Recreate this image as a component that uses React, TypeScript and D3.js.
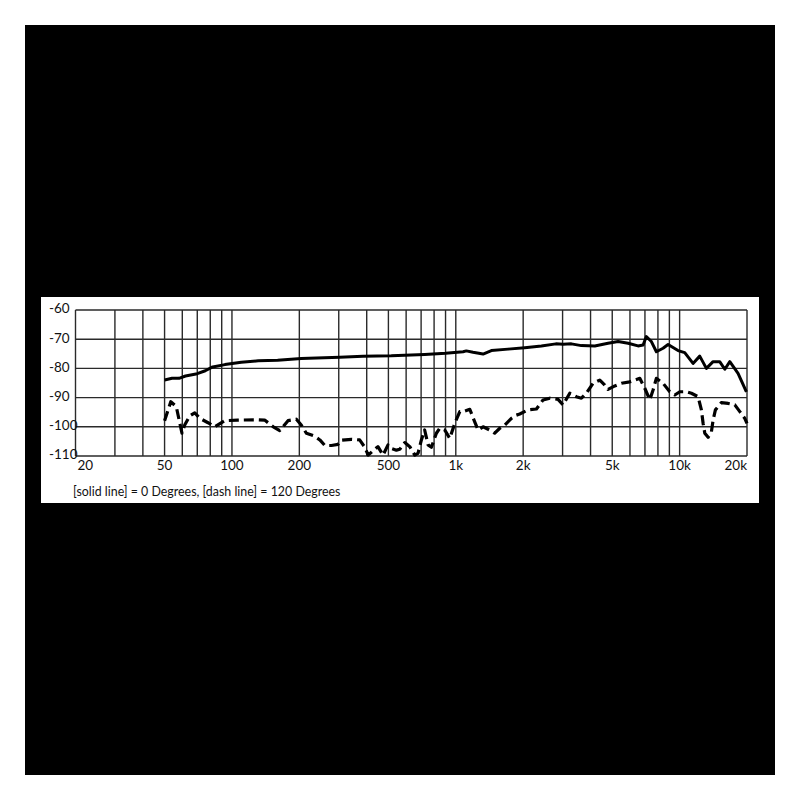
import React from 'react';
import * as d3 from 'd3';

// 0 degrees (solid line)
const solidFreq = [50, 54, 58, 62, 70, 76, 82, 93, 110, 131, 160, 204, 303, 385, 515, 726, 900, 1078, 1114, 1194, 1324, 1442, 1712, 2032, 2412, 2800, 3016, 3284, 3640, 4178, 4789, 5310, 5888, 6520, 6870, 7100, 7480, 7874, 8434, 8880, 9840, 10540, 11480, 12300, 13170, 14110, 15100, 15920, 16760, 18240, 19880];
const solidDb = [-84.0, -83.4, -83.4, -82.6, -81.8, -80.8, -79.5, -78.7, -77.9, -77.4, -77.2, -76.6, -76.2, -75.8, -75.7, -75.2, -74.8, -74.3, -74.0, -74.5, -75.1, -73.9, -73.4, -72.9, -72.3, -71.6, -71.7, -71.6, -72.2, -72.3, -71.4, -70.8, -71.4, -72.3, -72.0, -69.1, -70.8, -74.3, -73.1, -71.8, -73.9, -74.6, -78.3, -75.8, -80.0, -77.7, -77.7, -80.3, -77.7, -81.7, -88.0];

// 120 degrees (dash line)
const dashFreq = [50, 53.3, 56.4, 59.8, 61.5, 64.8, 68.2, 71.8, 78.2, 83.8, 92.8, 106, 131, 140, 153, 163.5, 178, 194, 204, 215, 234, 247, 260, 278, 298, 308, 342, 372, 392, 406, 427, 449, 473, 498, 515, 543, 562, 592, 623, 656, 678, 702, 726, 752, 778, 819, 848, 893, 940, 990, 1042, 1078, 1155, 1215, 1258, 1324, 1418, 1493, 1572, 1655, 1772, 1865, 1931, 2104, 2292, 2454, 2630, 2864, 3014, 3230, 3458, 3640, 3832, 4106, 4400, 4632, 4790, 5132, 5494, 5990, 6638, 6988, 7358, 7610, 7872, 8434, 9038, 9516, 10018, 10720, 11288, 12092, 12510, 12732, 12958, 13406, 13868, 14112, 14450, 15372, 16470, 17642, 18576, 19546, 20000];
const dashDb = [-97.9, -91.4, -93.1, -102.2, -99.4, -96.3, -95.2, -97.1, -98.6, -100.0, -97.9, -97.7, -97.6, -97.7, -100.0, -101.3, -97.9, -97.4, -99.4, -102.2, -103.2, -104.5, -106.4, -106.4, -106.0, -104.6, -104.3, -104.5, -107.0, -109.7, -108.2, -106.8, -109.7, -106.2, -107.4, -108.0, -107.7, -105.4, -106.8, -109.7, -109.1, -104.5, -101.1, -106.2, -107.0, -102.2, -100.5, -101.1, -104.0, -98.8, -94.8, -94.8, -94.0, -98.3, -101.1, -100.0, -101.1, -102.2, -100.5, -99.4, -97.1, -96.0, -95.6, -94.2, -93.9, -90.8, -90.2, -90.6, -92.5, -88.5, -89.7, -90.2, -88.5, -85.1, -84.0, -85.7, -87.2, -86.0, -85.1, -84.6, -83.4, -86.8, -90.8, -87.4, -83.4, -85.1, -88.0, -89.1, -88.0, -88.0, -88.5, -89.7, -94.2, -98.8, -102.2, -103.6, -101.7, -97.7, -94.2, -91.7, -92.0, -92.5, -94.8, -97.1, -98.8];

const gridFreqs = [20, 30, 40, 50, 60, 70, 80, 90, 100, 200, 300, 400, 500, 600, 700, 800, 900, 1000, 2000, 3000, 4000, 5000, 6000, 7000, 8000, 9000, 10000, 20000];
const xTickValues = [20, 50, 100, 200, 500, 1000, 2000, 5000, 10000, 20000];
const xTickLabels = ['20', '50', '100', '200', '500', '1k', '2k', '5k', '10k', '20k'];
const yTicks = [-60, -70, -80, -90, -100, -110];
const legendText = '[solid line] = 0 Degrees, [dash line] = 120 Degrees';

export default function App() {
  const x = d3.scaleLog().domain([20, 20000]).range([75.5, 747]);
  const y = d3.scaleLinear().domain([-110, -60]).range([456, 310]);
  const line = d3
    .line<[number, number]>()
    .x((d) => x(d[0]))
    .y((d) => y(d[1]));

  const solidPts: [number, number][] = solidFreq.map((f, i) => [f, solidDb[i]]);
  const dashPts: [number, number][] = dashFreq.map((f, i) => [f, dashDb[i]]);
  const font = 'Lato, "Open Sans", sans-serif';
  const gridColor = '#2a2a2a';

  return (
    <svg
      width={800}
      height={800}
      style={{ position: 'absolute', left: 0, top: 0, display: 'block' }}
    >
      <rect x={0} y={0} width={800} height={800} fill="#fff" />
      <rect x={25} y={25} width={750} height={750} fill="#000" />
      <rect x={41} y={297} width={718} height={206} fill="#fff" />

      {gridFreqs.map((f) => (
        <line key={'gx' + f} x1={x(f)} x2={x(f)} y1={y(-60)} y2={y(-110)} stroke={gridColor} strokeWidth={1.4} />
      ))}
      {yTicks.map((v) => (
        <line key={'gy' + v} x1={x(20)} x2={x(20000)} y1={y(v)} y2={y(v)} stroke={gridColor} strokeWidth={1.4} />
      ))}

      {yTicks.map((v) => (
        <text key={'yl' + v} x={49} y={y(v)} dominantBaseline="middle" fontFamily={font} fontSize={13.5} fill="#111">
          {String(v)}
        </text>
      ))}
      {xTickValues.map((f, i) => {
        const anchor = i === 0 ? 'start' : i === xTickValues.length - 1 ? 'end' : 'middle';
        const xx = i === 0 ? x(f) + 2 : x(f);
        return (
          <text key={'xl' + f} x={xx} y={470} textAnchor={anchor} fontFamily={font} fontSize={13.5} fill="#111">
            {xTickLabels[i]}
          </text>
        );
      })}

      <path d={line(solidPts) || ''} fill="none" stroke="#000" strokeWidth={3} strokeLinejoin="round" />
      <path d={line(dashPts) || ''} fill="none" stroke="#000" strokeWidth={3.2} strokeDasharray="10,5" strokeLinejoin="round" />

      <text x={73} y={496} fontFamily={font} fontSize={12.4} fill="#111">
        {legendText}
      </text>
    </svg>
  );
}
